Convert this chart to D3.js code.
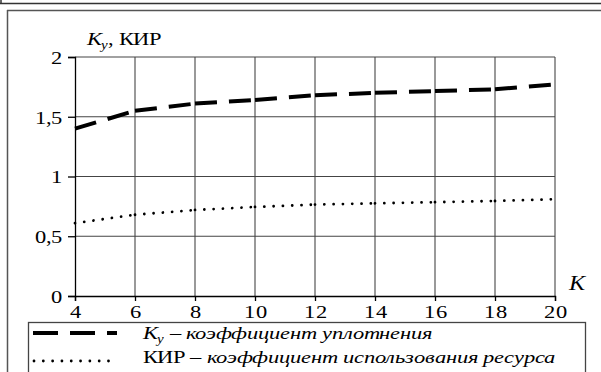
<!DOCTYPE html>
<html><head><meta charset="utf-8">
<script src="https://cdn.jsdelivr.net/npm/d3@7"></script>
<style>
@font-face { font-family: "ChartSerif"; font-style: normal; src: local("Liberation Serif"), local("LiberationSerif"), local("Liberation Serif Regular"), local("LiberationSerif-Regular"); }
@font-face { font-family: "ChartSerif"; font-style: italic; src: local("Liberation Serif Italic"), local("LiberationSerif-Italic"); }
</style>
</head><body style="margin:0">
<svg id="c" width="601" height="372" style="font-family: ChartSerif, 'Liberation Serif', serif"></svg>
<script>
const K = [4, 6, 8, 10, 12, 14, 16, 18, 20];
const Ky = [1.40, 1.55, 1.61, 1.64, 1.68, 1.70, 1.715, 1.73, 1.77];
const KIR = [0.61, 0.68, 0.72, 0.745, 0.765, 0.775, 0.785, 0.795, 0.81];
const xTicks = [4, 6, 8, 10, 12, 14, 16, 18, 20];
const yTicks = [0, 0.5, 1, 1.5, 2];
const yTickLabels = ["0", "0,5", "1", "1,5", "2"];

const FONT = "ChartSerif, Liberation Serif, serif";
const SX = 1.25;
const svg = d3.select("#c");
const x = d3.scaleLinear().domain([4, 20]).range([75, 555]);
const y = d3.scaleLinear().domain([0, 2]).range([296, 57]);

// frames
svg.append("line").attr("x1", 0).attr("x2", 601).attr("y1", 3.5).attr("y2", 3.5).attr("stroke", "#333").attr("stroke-width", 1.5);
svg.append("line").attr("x1", 1).attr("x2", 1).attr("y1", 0).attr("y2", 4).attr("stroke", "#333").attr("stroke-width", 1.5);
svg.append("line").attr("x1", 7).attr("x2", 601).attr("y1", 10.5).attr("y2", 10.5).attr("stroke", "#555").attr("stroke-width", 1.5);
svg.append("line").attr("x1", 7.5).attr("x2", 7.5).attr("y1", 10).attr("y2", 372).attr("stroke", "#555").attr("stroke-width", 1.5);

// grid
const g = svg.append("g");
g.selectAll(".vg").data(xTicks.slice(1)).enter().append("line")
  .attr("x1", d => x(d)).attr("x2", d => x(d)).attr("y1", y(2)).attr("y2", y(0))
  .attr("stroke", "#555").attr("stroke-width", 1.2);
g.selectAll(".hg").data(yTicks.slice(1)).enter().append("line")
  .attr("x1", x(4)).attr("x2", x(20)).attr("y1", d => y(d)).attr("y2", d => y(d))
  .attr("stroke", "#444").attr("stroke-width", 1.2);

// axes
const xAxis = d3.axisBottom(x).tickValues(xTicks).tickSize(5).tickFormat(d3.format("d"));
const gx = svg.append("g").attr("transform", `translate(0,${y(0)})`).call(xAxis);
gx.attr("font-family", FONT).attr("font-size", 18);
gx.select(".domain").attr("stroke", "#000").attr("stroke-width", 1.3);
gx.selectAll(".tick line").attr("stroke", "#000").attr("stroke-width", 1.3);
gx.selectAll("text").attr("font-family", FONT).attr("font-size", 18).attr("fill", "#000")
  .attr("dy", null).attr("y", 22).attr("transform", `scale(${SX},1)`);

const yAxis = d3.axisLeft(y).tickValues(yTicks).tickSize(7).tickFormat((d, i) => yTickLabels[i]);
const gy = svg.append("g").attr("transform", `translate(${x(4)},0)`).call(yAxis);
gy.attr("font-family", FONT).attr("font-size", 18);
gy.select(".domain").attr("stroke", "#000").attr("stroke-width", 1.3);
gy.selectAll(".tick line").attr("stroke", "#000").attr("stroke-width", 1.3);
gy.selectAll("text").attr("font-family", FONT).attr("font-size", 18).attr("fill", "#000")
  .attr("x", -10).attr("dy", "0.36em").attr("transform", `scale(${SX},1)`);

// axis titles
const yt = svg.append("text").attr("font-family", FONT).attr("font-size", 18).attr("fill", "#000")
  .attr("transform", `translate(87,45) scale(${SX},1)`);
yt.append("tspan").attr("font-style", "italic").text("K");
yt.append("tspan").attr("font-style", "italic").attr("font-size", 12).attr("dy", 4).text("y");
yt.append("tspan").attr("dy", -4).text(", КИР");
svg.append("text").attr("font-family", FONT).attr("font-size", 21).attr("font-style", "italic").attr("fill", "#000")
  .attr("transform", `translate(569,290) scale(1.15,1)`).text("K");

// series, each segment drawn separately (pattern restarts at each point)
const pts = (vals) => K.map((k, i) => [x(k), y(vals[i])]);
function drawSeg(vals, dash, w, cap) {
  const p = pts(vals);
  for (let i = 0; i < p.length - 1; i++) {
    svg.append("path").attr("d", d3.line()([p[i], p[i + 1]]))
      .attr("fill", "none").attr("stroke", "#000").attr("stroke-width", w)
      .attr("stroke-dasharray", dash).attr("stroke-linecap", cap);
  }
}
drawSeg(Ky, "22 12", 4, "butt");
drawSeg(KIR, "0.01 9.3", 2.8, "round");

// legend
svg.append("rect").attr("x", 28.5).attr("y", 322.5).attr("width", 557).attr("height", 60)
  .attr("fill", "#fff").attr("stroke", "#444").attr("stroke-width", 1.3);
svg.append("line").attr("x1", 33).attr("x2", 117).attr("y1", 333).attr("y2", 333)
  .attr("stroke", "#000").attr("stroke-width", 4).attr("stroke-dasharray", "25 12");
svg.append("line").attr("x1", 34).attr("x2", 112).attr("y1", 361).attr("y2", 361)
  .attr("stroke", "#000").attr("stroke-width", 2.8).attr("stroke-dasharray", "0.01 9.3").attr("stroke-linecap", "round");
const l1 = svg.append("text").attr("font-family", FONT).attr("font-size", 18).attr("font-style", "italic").attr("fill", "#000")
  .attr("transform", `translate(143,339) scale(${SX},1)`);
l1.append("tspan").text("K");
l1.append("tspan").attr("font-size", 12).attr("dy", 4).text("y");
l1.append("tspan").attr("dy", -4).text(" – коэффициент уплотнения");
const l2 = svg.append("text").attr("font-family", FONT).attr("font-size", 18).attr("fill", "#000")
  .attr("transform", `translate(143,363) scale(${SX},1)`);
l2.append("tspan").text("КИР – ");
l2.append("tspan").attr("font-style", "italic").text("коэффициент использования ресурса");
</script>
</body></html>
